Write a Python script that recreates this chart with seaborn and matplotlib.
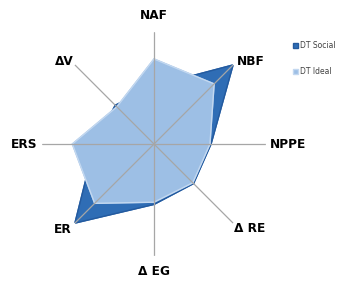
import numpy as np
import pandas as pd
import seaborn as sns
import matplotlib
matplotlib.use("Agg")
import matplotlib.pyplot as plt
from matplotlib.patches import Patch

# dados (escala 0-1)
eixos = ["NAF", "NBF", "NPPE", "Δ RE", "Δ EG", "ER", "ERS", "ΔV"]
dt_social = [0.52, 1.00, 0.51, 0.50, 0.54, 1.00, 0.53, 0.49]
dt_ideal = [0.76, 0.76, 0.50, 0.49, 0.52, 0.75, 0.73, 0.47]

sns.set_theme(style="white")
plt.rcParams["font.family"] = ["DejaVu Sans"]

angulos = np.linspace(0, 2 * np.pi, len(eixos), endpoint=False)
ang_fechado = np.append(angulos, 2 * np.pi)

fig = plt.figure(figsize=(3.37, 2.81), dpi=100)
ax = fig.add_axes([0.125, 0.089, 0.664, 0.797], projection="polar")
ax.set_theta_offset(np.pi / 2)
ax.set_theta_direction(-1)

cor_social = "#2f6db5"
cor_ideal = "#9dbfe5"

# zorder < 2.5 para os eixos (linhas cinzas) ficarem por cima
series = [(dt_social, cor_social, "#245a9e"), (dt_ideal, cor_ideal, "#c3d8f0")]
for i, (valores, cor, borda) in enumerate(series):
    v = valores + valores[:1]
    ax.fill(ang_fechado, v, color=cor, zorder=1 + 0.6 * i)
    sns.lineplot(x=ang_fechado, y=v, ax=ax, color=borda, lw=1.0, sort=False, zorder=1.3 + 0.6 * i)

ax.set_ylim(0, 1.0)
ax.set_yticks([])
ax.set_xticks(angulos)
ax.set_xticklabels([])
ax.grid(True, color="#a6a6a6", lw=0.9)
ax.set_axisbelow(False)
ax.spines["polar"].set_visible(False)
ax.set_facecolor("none")

# deslocamento (pixels) dos rotulos a partir da ponta de cada eixo
desloc = [(0, 17), (18, 3), (22, 0), (17, -5), (0, -16), (-12, -6), (-18, 0), (-11, 3)]
for ang, nome, d in zip(angulos, eixos, desloc):
    ax.annotate(nome, xy=(ang, 1.0), xytext=d, textcoords="offset pixels",
                ha="center", va="center", fontsize=8.7, fontweight="bold",
                color="#000000", annotation_clip=False)

handles = [Patch(facecolor=cor_social, edgecolor="#245a9e", label="DT Social"),
           Patch(facecolor=cor_ideal, edgecolor="#c3d8f0", label="DT Ideal")]
fig.legend(handles=handles, loc="upper left", bbox_to_anchor=(0.858, 0.868),
           frameon=False, fontsize=5.5, labelcolor="#404040", handlelength=0.65,
           handleheight=0.65, handletextpad=0.3, labelspacing=2.3, borderpad=0)

fig.savefig("out.png", dpi=100)
